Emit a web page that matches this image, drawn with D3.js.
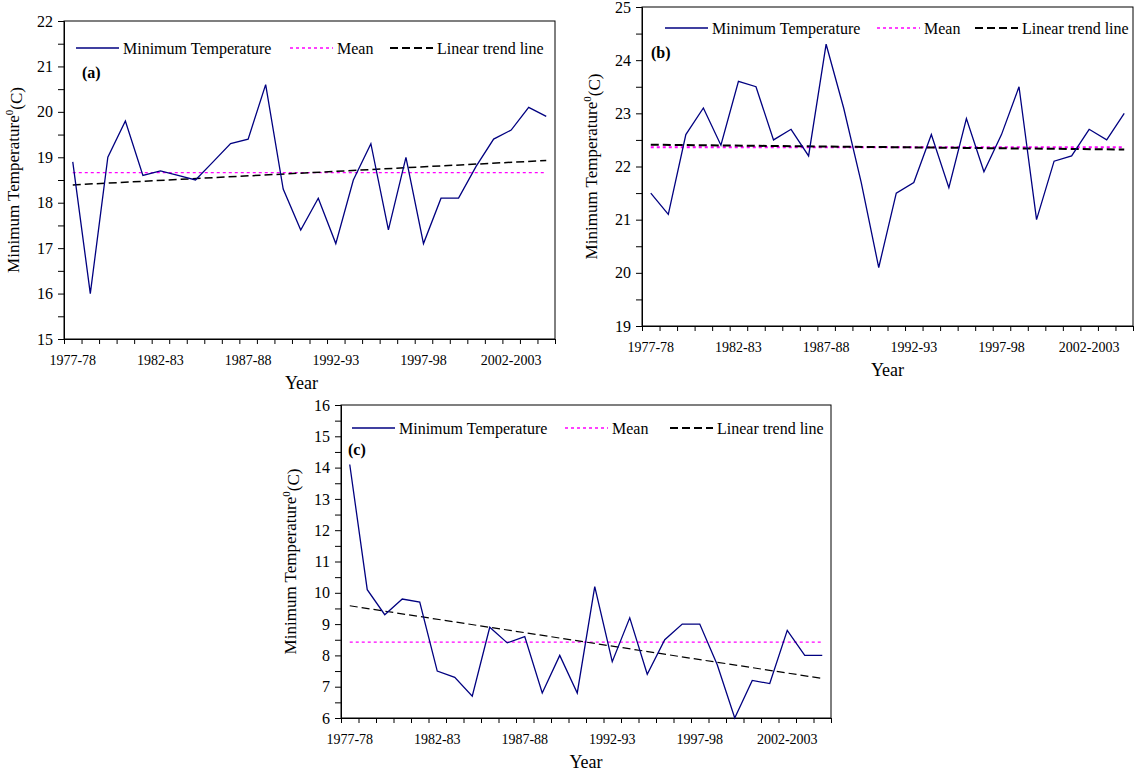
<!DOCTYPE html>
<html>
<head>
<meta charset="utf-8">
<script src="https://cdn.jsdelivr.net/npm/d3@7"></script>
<style>
  body { margin: 0; background: #fff; }
  svg { display: block; font-family: "Liberation Serif", "Times New Roman", serif; }
</style>
</head>
<body>
<div id="chart"></div>
<script>
// seasons on the x axis
var years = ["1977-78", "1978-79", "1979-80", "1980-81", "1981-82", "1982-83", "1983-84",
             "1984-85", "1985-86", "1986-87", "1987-88", "1988-89", "1989-90", "1990-91",
             "1991-92", "1992-93", "1993-94", "1994-95", "1995-96", "1996-97", "1997-98",
             "1998-99", "1999-00", "2000-01", "2001-02", "2002-2003", "2003-04", "2004-05"];
var yearLabels = ["1977-78", "1982-83", "1987-88", "1992-93", "1997-98", "2002-2003"];

// minimum temperature (deg C)
var tempA = [18.9, 16.0, 19.0, 19.8, 18.6, 18.7, 18.6, 18.5, 18.9, 19.3, 19.4, 20.6, 18.3, 17.4,
             18.1, 17.1, 18.5, 19.3, 17.4, 19.0, 17.1, 18.1, 18.1, 18.8, 19.4, 19.6, 20.1, 19.9];
var tempB = [21.5, 21.1, 22.6, 23.1, 22.4, 23.6, 23.5, 22.5, 22.7, 22.2, 24.3, 23.1, 21.7, 20.1,
             21.5, 21.7, 22.6, 21.6, 22.9, 21.9, 22.6, 23.5, 21.0, 22.1, 22.2, 22.7, 22.5, 23.0];
var tempC = [14.1, 10.1, 9.3, 9.8, 9.7, 7.5, 7.3, 6.7, 8.9, 8.4, 8.6, 6.8, 8.0, 6.8,
             10.2, 7.8, 9.2, 7.4, 8.5, 9.0, 9.0, 7.7, 6.0, 7.2, 7.1, 8.8, 8.0, 8.0];

var domainA = [15, 22];
var domainB = [19, 25];
var domainC = [6, 16];

var legendNames = ["Minimum Temperature", "Mean", "Linear trend line"];

// panel boxes
var panels = [
  {id: "(a)", data: tempA, domain: domainA, x0: 64, x1: 555, y0: 21, y1: 339,
   legendX: [76, 290, 390], legendY: 27, tag: [18, 51], yearDx: -8, trendW: 1.5, meanW: 1.3},
  {id: "(b)", data: tempB, domain: domainB, x0: 642, x1: 1133, y0: 7, y1: 326,
   legendX: [665, 877, 975], legendY: 21, tag: [9, 45], yearDx: 0, trendW: 2, meanW: 2},
  {id: "(c)", data: tempC, domain: domainC, x0: 341, x1: 831, y0: 405, y1: 718,
   legendX: [352, 565, 670], legendY: 23, tag: [7, 44], yearDx: 0, trendW: 1.2, meanW: 1.2}
];

var navy = "#000080", magenta = "#ff00ff";
var serif = "'Liberation Serif', 'Times New Roman', serif";

const svg = d3.select("#chart").append("svg")
  .attr("width", 1135)
  .attr("height", 775);

svg.append("rect").attr("width", 1135).attr("height", 775).attr("fill", "#fff");

function drawPanel(p) {
  var w = p.x1 - p.x0, h = p.y1 - p.y0;
  var g = svg.append("g").attr("transform", `translate(${p.x0},${p.y0})`);

  var x = d3.scaleBand().domain(years).range([0, w]).padding(0);
  var xi = d3.scaleLinear().domain([0, years.length]).range([0, w]);
  var y = d3.scaleLinear().domain(p.domain).range([h, 0]);
  var cx = d => x(d) + x.bandwidth() / 2;

  // box
  g.append("rect").attr("width", w).attr("height", h)
    .attr("fill", "none").attr("stroke", "#000").attr("stroke-width", 1);

  // y axis, ticks every 0.5
  var yAxis = d3.axisLeft(y)
    .tickValues(d3.range(p.domain[0], p.domain[1] + 0.01, 0.5))
    .tickFormat(d => Number.isInteger(d) ? d : "")
    .tickSize(6).tickPadding(5);
  var ya = g.append("g").call(yAxis);
  ya.selectAll("text").style("font-family", serif).style("font-size", "16px").attr("fill", "#000");

  // x axis: ticks on category boundaries
  g.append("g").attr("transform", `translate(0,${h})`)
    .call(d3.axisBottom(xi).tickValues(d3.range(years.length + 1)).tickFormat("").tickSize(5));
  // labels at category centers
  var xl = g.append("g").attr("transform", `translate(0,${h})`)
    .call(d3.axisBottom(x).tickValues(yearLabels).tickSize(0).tickPadding(16));
  xl.select(".domain").remove();
  xl.selectAll("text").style("font-family", serif).style("font-size", "14px").attr("fill", "#000");
  g.selectAll(".domain").attr("stroke", "#000");

  // mean and trend from the data
  var idx = d3.range(p.data.length);
  var mean = d3.mean(p.data);
  var mx = d3.mean(idx);
  var slope = d3.sum(idx, i => (i - mx) * (p.data[i] - mean)) / d3.sum(idx, i => (i - mx) * (i - mx));
  var icept = mean - slope * mx;

  var first = years[0], last = years[years.length - 1];
  g.append("line")
    .attr("x1", cx(first)).attr("x2", cx(last))
    .attr("y1", y(mean)).attr("y2", y(mean))
    .attr("stroke", magenta).attr("stroke-width", p.meanW).attr("stroke-dasharray", "3,3");

  g.append("line")
    .attr("x1", cx(first)).attr("x2", cx(last))
    .attr("y1", y(icept)).attr("y2", y(icept + slope * (years.length - 1)))
    .attr("stroke", "#000").attr("stroke-width", p.trendW).attr("stroke-dasharray", "8,4");

  var line = d3.line().x((d, i) => cx(years[i])).y(d => y(d));
  g.append("path").datum(p.data)
    .attr("d", line).attr("fill", "none")
    .attr("stroke", navy).attr("stroke-width", 1.3);

  // legend
  var styles = [
    {stroke: navy, dash: null, width: 1.3},
    {stroke: magenta, dash: "3,3", width: 1.5},
    {stroke: "#000", dash: "8,4", width: 2}
  ];
  legendNames.forEach(function(name, i) {
    var lx = p.legendX[i] - p.x0;
    g.append("line")
      .attr("x1", lx).attr("x2", lx + 43)
      .attr("y1", p.legendY).attr("y2", p.legendY)
      .attr("stroke", styles[i].stroke).attr("stroke-width", styles[i].width)
      .attr("stroke-dasharray", styles[i].dash);
    g.append("text")
      .attr("x", lx + 47).attr("y", p.legendY).attr("dy", "0.35em")
      .style("font-size", "16px").text(name);
  });

  // panel tag
  g.append("text")
    .attr("x", p.tag[0]).attr("y", p.tag[1]).attr("dy", "0.35em")
    .style("font-size", "16px").style("font-weight", "bold").text(p.id);

  // axis titles
  g.append("text")
    .attr("x", w / 2 + p.yearDx).attr("y", h + 50)
    .attr("text-anchor", "middle").style("font-size", "18px").text("Year");

  var yt = g.append("text")
    .attr("transform", `translate(-45,${h / 2}) rotate(-90)`)
    .attr("text-anchor", "middle").style("font-size", "17px");
  yt.append("tspan").text("Minimum Temperature");
  yt.append("tspan").attr("dy", "-0.55em").style("font-size", "11px").text("0");
  yt.append("tspan").attr("dy", "0.55em").text("(C)");
}

panels.forEach(drawPanel);
</script>
</body>
</html>
